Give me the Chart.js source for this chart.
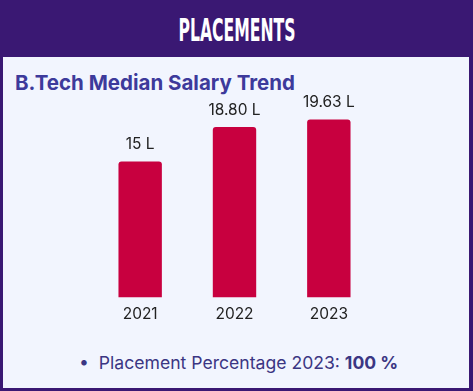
<!DOCTYPE html>
<html><head><meta charset="utf-8">
<script src="https://cdn.jsdelivr.net/npm/chart.js@4"></script>
<style>
html,body{margin:0;padding:0;}
body{width:473px;height:391px;position:relative;overflow:hidden;background:#f2f5fe;font-family:Inter,"Noto Sans",sans-serif;}
#frame{position:absolute;left:0;top:0;width:473px;height:391px;box-sizing:border-box;border-left:3px solid #3a1873;border-right:4px solid #3a1873;border-bottom:3px solid #3a1873;}
#head{position:absolute;left:0;top:0;width:473px;height:57px;background:#3a1873;}
#htxt{position:absolute;left:236.5px;top:11px;color:#fff;font-family:"Liberation Sans Narrow","DejaVu Sans Condensed",sans-serif;font-weight:bold;font-size:32px;white-space:nowrap;transform-origin:0 0;}
#title{position:absolute;left:15px;top:70px;color:#3d3a9b;font-weight:700;font-size:20.5px;font-family:Inter,sans-serif;white-space:nowrap;}
#bullet{position:absolute;left:79px;top:352px;color:#3b3683;font-size:17.6px;font-family:Inter,sans-serif;white-space:nowrap;}
#bullet b{font-weight:700;}
#wrap{position:absolute;left:93px;top:95px;width:283px;height:237px;}
</style></head><body>
<div id="head"><span id="htxt">PLACEMENTS</span></div>
<div id="frame"></div>
<div id="title">B.Tech Median Salary Trend</div>
<div id="wrap"><canvas id="c"></canvas></div>
<div id="bullet">•&nbsp;&nbsp;Placement Percentage 2023: <b>100 %</b></div>
<script>
const categories = ["2021", "2022", "2023"];
const salaries = [15, 18.80, 19.63];
const valueLabels = ["15 L", "18.80 L", "19.63 L"];

(function(){
  const h = document.getElementById('htxt');
  const w = h.getBoundingClientRect().width;
  const s = 117 / w;
  h.style.transform = 'translateX(' + (-58.5) + 'px) scaleX(' + s + ')';
})();

const labelPlugin = {
  id: 'valLabels',
  afterDatasetsDraw(chart) {
    const ctx = chart.ctx;
    const meta = chart.getDatasetMeta(0);
    ctx.save();
    ctx.font = '15.5px Inter, sans-serif';
    ctx.fillStyle = '#222';
    ctx.textAlign = 'center';
    ctx.textBaseline = 'alphabetic';
    meta.data.forEach((bar, i) => {
      ctx.fillText(valueLabels[i], bar.x, bar.y - 12);
    });
    ctx.restore();
  }
};

new Chart(document.getElementById('c'), {
  type: 'bar',
  data: {
    labels: categories,
    datasets: [{
      data: salaries,
      backgroundColor: '#c8003f',
      borderRadius: 3,
      borderSkipped: 'bottom',
      categoryPercentage: 1,
      barPercentage: 0.46
    }]
  },
  options: {
    responsive: true,
    maintainAspectRatio: false,
    animation: false,
    layout: { padding: { top: 3, left: 0, right: 0, bottom: 0 } },
    plugins: { legend: { display: false }, tooltip: { enabled: false } },
    scales: {
      x: {
        grid: { display: false, drawTicks: false },
        border: { display: false },
        ticks: { color: '#222', font: { family: 'Inter, sans-serif', size: 15.5 }, padding: 8 }
      },
      y: {
        display: false,
        min: 0,
        max: 22
      }
    }
  },
  plugins: [labelPlugin]
});
</script>
</body></html>
